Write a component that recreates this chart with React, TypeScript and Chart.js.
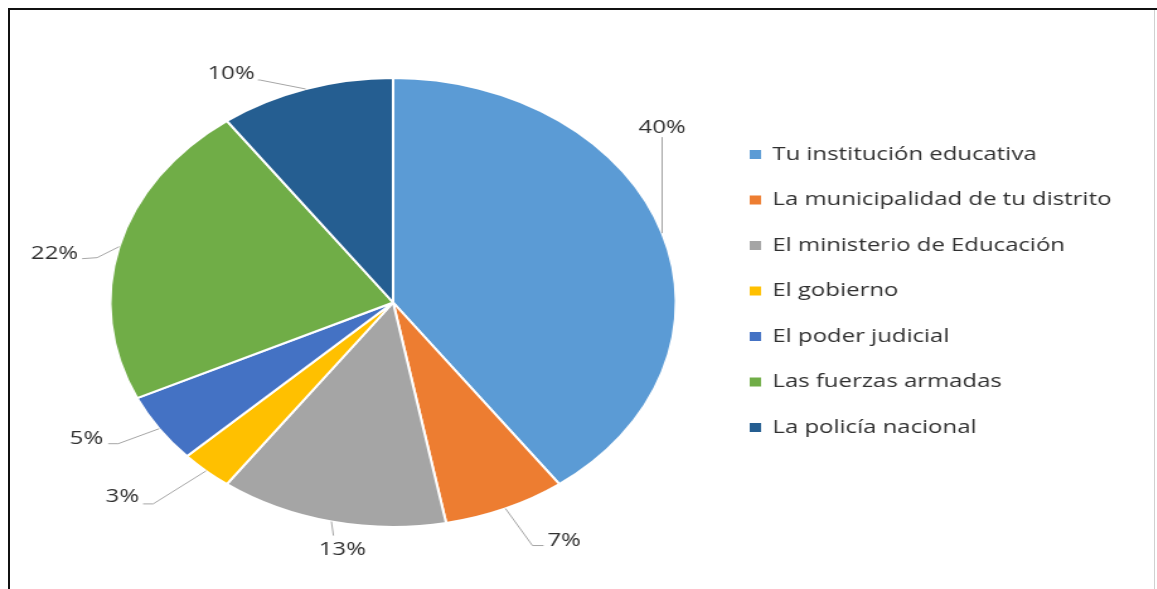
import React, { useEffect, useRef } from "react";
import { Chart, registerables } from "chart.js";

Chart.register(...registerables);

// ---- data ----
const categories = [
  "Tu institución educativa",
  "La municipalidad de tu distrito",
  "El ministerio de Educación",
  "El gobierno",
  "El poder judicial",
  "Las fuerzas armadas",
  "La policía nacional",
];
const values = [40, 7, 13, 3, 5, 22, 10];
const valueLabels = ["40%", "7%", "13%", "3%", "5%", "22%", "10%"];
const colors = ["#5B9BD5", "#ED7D31", "#A5A5A5", "#FFC000", "#4472C4", "#70AD47", "#255E91"];

// ---- layout ----
const STRETCH = 1.26;
const PAGE_W = 1157;
const PAGE_H = 589;
const CANVAS_W = Math.round(PAGE_W / STRETCH);
const FONT = "'Open Sans', sans-serif";
const TEXT_COLOR = "#303030";

// leader-line geometry relative to each slice's outer mid-arc point (unstretched px)
const leaderLayout = [
  { elbow: [0, -96], end: [0, -96], text: [0, -106], align: "center" },
  { elbow: [21.4, 37], end: [30.2, 37], text: [33.3, 32], align: "left" },
  { elbow: [1.6, 14], end: [1.6, 14], text: [8.7, 28.5], align: "center" },
  { elbow: [-42, 33], end: [-50, 33], text: [-53.2, 26], align: "right" },
  { elbow: [-32.5, 15], end: [-40.5, 15], text: [-44.4, 10], align: "right" },
  { elbow: [-17.5, 11], end: [-29.4, 12], text: [-32.5, 7], align: "right" },
  { elbow: [-36.5, -9], end: [-38, -9], text: [-40.5, -15], align: "right" },
];

const leaderPlugin = {
  id: "leaderLabels",
  afterDraw(chart: any) {
    const ctx = chart.ctx;
    const meta = chart.getDatasetMeta(0);
    ctx.save();
    meta.data.forEach((arc: any, i: number) => {
      const p = arc.getProps(["x", "y", "startAngle", "endAngle", "outerRadius"], true);
      const mid = (p.startAngle + p.endAngle) / 2;
      const ax = p.x + Math.cos(mid) * p.outerRadius;
      const ay = p.y + Math.sin(mid) * p.outerRadius;
      const L = leaderLayout[i];
      ctx.strokeStyle = "#A6A6A6";
      ctx.lineWidth = 1;
      ctx.beginPath();
      ctx.moveTo(ax, ay);
      ctx.lineTo(ax + L.elbow[0], ay + L.elbow[1]);
      ctx.lineTo(ax + L.end[0], ay + L.end[1]);
      ctx.stroke();
      ctx.fillStyle = TEXT_COLOR;
      ctx.font = `19px ${FONT}`;
      ctx.textAlign = L.align;
      ctx.textBaseline = "middle";
      ctx.fillText(valueLabels[i], ax + L.text[0], ay + L.text[1]);
    });
    ctx.restore();
  },
};

const legendPlugin = {
  id: "sideLegend",
  afterDraw(chart: any) {
    const ctx = chart.ctx;
    const boxX = 595;
    const textX = 613;
    const y0 = 154.5;
    const step = 45.5;
    const box = 9;
    ctx.save();
    chart.data.labels.forEach((lab: string, i: number) => {
      const cy = y0 + i * step;
      ctx.fillStyle = colors[i];
      ctx.fillRect(boxX, cy - box / 2, box, box);
      ctx.fillStyle = TEXT_COLOR;
      ctx.font = `19px ${FONT}`;
      ctx.textAlign = "left";
      ctx.textBaseline = "middle";
      ctx.fillText(lab, textX, cy);
    });
    ctx.restore();
  },
};

export default function App() {
  const ref = useRef<HTMLCanvasElement | null>(null);

  useEffect(() => {
    if (!ref.current) return;
    const chart = new Chart(ref.current, {
      type: "pie",
      data: {
        labels: categories,
        datasets: [
          {
            data: values,
            backgroundColor: colors,
            borderColor: "#FFFFFF",
            borderWidth: 2,
          },
        ],
      },
      options: {
        responsive: false,
        animation: false,
        radius: 224.5,
        layout: { padding: { left: 0, right: 294, top: 16, bottom: 0 } },
        plugins: {
          legend: { display: false },
          tooltip: { enabled: false },
        },
      } as any,
      plugins: [leaderPlugin, legendPlugin],
    });
    return () => chart.destroy();
  }, []);

  return (
    <div
      style={{
        position: "absolute",
        left: 0,
        top: 0,
        width: PAGE_W,
        height: PAGE_H,
        overflow: "hidden",
        background: "#FFFFFF",
      }}
    >
      <div
        style={{
          position: "absolute",
          left: 0,
          top: 0,
          width: CANVAS_W,
          height: PAGE_H,
          transform: `scaleX(${STRETCH})`,
          transformOrigin: "0 0",
        }}
      >
        <canvas ref={ref} width={CANVAS_W} height={PAGE_H} style={{ display: "block" }} />
      </div>
      <div style={{ position: "absolute", left: 8, top: 8, width: PAGE_W - 8, height: 2, background: "#111" }} />
      <div style={{ position: "absolute", left: 8, top: 8, width: 2, height: PAGE_H - 8, background: "#111" }} />
      <div style={{ position: "absolute", left: 1154, top: 10, width: 1, height: PAGE_H - 10, background: "#D0D0D0" }} />
    </div>
  );
}
